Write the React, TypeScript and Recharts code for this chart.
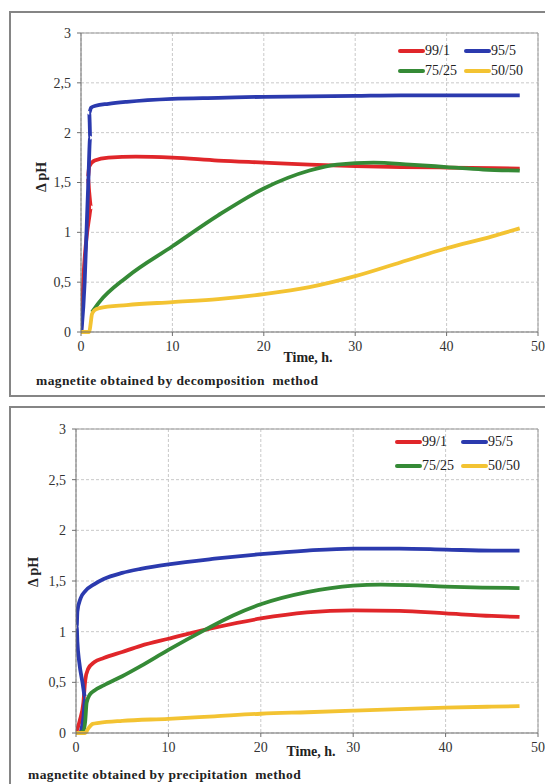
import React from 'react';
import {
  CartesianGrid,
  Legend,
  Line,
  LineChart,
  ReferenceLine,
  XAxis,
  YAxis,
} from 'recharts';

// [time, h ; delta pH]
const DEC_99_1 = [
  [0, 0], [0.3, 0.6], [0.9, 1.15], [1.1, 1.25], [0.9, 1.4], [0.75, 1.55], [0.9, 1.66],
  [1.5, 1.72], [3, 1.75], [6, 1.76], [10, 1.75], [15, 1.72], [20, 1.7], [25, 1.68],
  [30, 1.665], [35, 1.655], [40, 1.65], [48, 1.64],
];
const DEC_95_5 = [
  [0.05, 0], [0.4, 0.5], [0.6, 1.0], [0.8, 1.5], [1.0, 1.95], [0.95, 2.1], [0.9, 2.2],
  [1.1, 2.25], [1.6, 2.27], [3, 2.29], [5, 2.31], [10, 2.34], [15, 2.35], [20, 2.36],
  [25, 2.365], [30, 2.37], [35, 2.375], [40, 2.375], [48, 2.375],
];
const DEC_75_25 = [
  [1.2, 0.2], [2, 0.3], [5, 0.55], [10, 0.86], [15, 1.17], [20, 1.44], [25, 1.62],
  [28, 1.68], [32, 1.7], [36, 1.68], [40, 1.655], [44, 1.63], [48, 1.62],
];
const DEC_50_50 = [
  [0, 0], [0.9, 0], [1.05, 0.08], [1.2, 0.18], [1.5, 0.22], [2, 0.24], [5, 0.27],
  [10, 0.3], [15, 0.33], [20, 0.38], [25, 0.45], [30, 0.56], [35, 0.7], [40, 0.84],
  [45, 0.96], [48, 1.04],
];

const PREC_99_1 = [
  [0, 0], [0.4, 0.12], [0.8, 0.3], [1.0, 0.52], [1.3, 0.63], [2, 0.7], [3, 0.74],
  [5, 0.8], [7, 0.86], [10, 0.93], [15, 1.04], [20, 1.13], [25, 1.19], [30, 1.21],
  [35, 1.205], [40, 1.18], [45, 1.155], [48, 1.145],
];
const PREC_95_5 = [
  [0.5, 0], [0.8, 0.15], [1.0, 0.35], [0.7, 0.5], [0.35, 0.7], [0.15, 0.9], [0.08, 1.05],
  [0.15, 1.2], [0.5, 1.33], [1, 1.4], [2, 1.47], [3, 1.52], [5, 1.58], [7, 1.62],
  [10, 1.665], [15, 1.72], [20, 1.765], [25, 1.8], [30, 1.82], [35, 1.82], [40, 1.81],
  [45, 1.8], [48, 1.8],
];
const PREC_75_25 = [
  [0.3, 0], [0.8, 0.02], [1.0, 0.12], [1.15, 0.3], [1.5, 0.38], [2, 0.42], [3, 0.47],
  [5, 0.56], [7, 0.66], [10, 0.82], [14, 1.02], [17, 1.16], [20, 1.27], [25, 1.39],
  [30, 1.455], [33, 1.465], [36, 1.46], [40, 1.445], [44, 1.435], [48, 1.43],
];
const PREC_50_50 = [
  [0, 0], [1, 0], [1.3, 0.04], [1.8, 0.09], [2.5, 0.1], [5, 0.12], [10, 0.14],
  [15, 0.165], [20, 0.19], [25, 0.205], [30, 0.22], [35, 0.235], [40, 0.25],
  [45, 0.26], [48, 0.265],
];

const SERIES_NAMES = ['99/1', '95/5', '75/25', '50/50'];
const SERIES_COLORS = ['#e0262a', '#2b3aae', '#358a36', '#f3c332'];
const X_TICKS = [0, 10, 20, 30, 40, 50];
const Y_TICKS = [0, 0.5, 1, 1.5, 2, 2.5, 3];

const SERIF = "'Liberation Serif', 'DejaVu Serif', serif";

const toPoints = (arr: number[][]) => arr.map(([t, v]) => ({ t, v }));
const fmt = (v: number) => String(v).replace('.', ',');

function LegendBox({ rowH }: { rowH: number }) {
  return (
    <div style={{ display: 'grid', gridTemplateColumns: '66px 66px' }}>
      {SERIES_NAMES.map((name, i) => (
        <div key={name} style={{ display: 'flex', alignItems: 'center', height: rowH }}>
          <svg width={27} height={6} style={{ display: 'block' }}>
            <line x1={2} y1={3} x2={25} y2={3} stroke={SERIES_COLORS[i]} strokeWidth={4} strokeLinecap="round" />
          </svg>
          <span style={{ fontFamily: SERIF, fontSize: 14, color: '#222', lineHeight: 1 }}>{name}</span>
        </div>
      ))}
    </div>
  );
}

interface PanelProps {
  series: number[][][];
  top: number;
  height: number;
  margin: { top: number; right: number; bottom: number; left: number };
  legendTop: number;
  legendLeft: number;
  rowH: number;
}

function Panel({ series, top, height, margin, legendTop, legendLeft, rowH }: PanelProps) {
  return (
    <div style={{ position: 'absolute', left: 0, top, width: 545, height }}>
      <LineChart width={545} height={height} margin={margin}>
        <CartesianGrid stroke="#c9c9c9" strokeDasharray="3 2" />
        <XAxis
          dataKey="t"
          type="number"
          domain={[0, 50]}
          ticks={X_TICKS}
          allowDataOverflow
          height={30}
          tickSize={4}
          tickMargin={5}
          stroke="#6f6f6f"
          tick={{ fill: '#333', fontFamily: SERIF, fontSize: 14 }}
        />
        <YAxis
          dataKey="v"
          type="number"
          domain={[0, 3]}
          ticks={Y_TICKS}
          width={30}
          tickSize={4}
          tickMargin={6}
          stroke="#6f6f6f"
          tickFormatter={fmt}
          tick={{ fill: '#333', fontFamily: SERIF, fontSize: 14 }}
        />
        <ReferenceLine y={3} stroke="#9a9a9a" />
        <ReferenceLine x={50} stroke="#9a9a9a" />
        <Legend
          verticalAlign="middle"
          align="center"
          wrapperStyle={{ top: legendTop, left: legendLeft, width: 140 }}
          content={() => <LegendBox rowH={rowH} />}
        />
        {series.map((s, i) => (
          <Line
            key={SERIES_NAMES[i]}
            data={toPoints(s)}
            dataKey="v"
            name={SERIES_NAMES[i]}
            type="monotone"
            stroke={SERIES_COLORS[i]}
            strokeWidth={3.8}
            dot={false}
            activeDot={false}
            isAnimationActive={false}
          />
        ))}
      </LineChart>
    </div>
  );
}

const boldText: React.CSSProperties = {
  position: 'absolute',
  fontFamily: SERIF,
  fontWeight: 'bold',
  color: '#222',
  whiteSpace: 'pre',
  lineHeight: 1,
};

export default function App() {
  return (
    <div style={{ position: 'absolute', left: 0, top: 0, width: 545, height: 784, overflow: 'hidden', background: '#fff' }}>
      <div style={{ position: 'absolute', left: 9, top: 11, width: 560, height: 382, border: '2px solid #858585' }} />
      <div style={{ position: 'absolute', left: 9, top: 406, width: 560, height: 400, border: '2px solid #858585' }} />

      <Panel
        series={[DEC_99_1, DEC_95_5, DEC_75_25, DEC_50_50]}
        top={0}
        height={395}
        margin={{ top: 33, right: 7, bottom: 33, left: 51 }}
        legendTop={41}
        legendLeft={398}
        rowH={20}
      />
      <Panel
        series={[PREC_99_1, PREC_95_5, PREC_75_25, PREC_50_50]}
        top={395}
        height={389}
        margin={{ top: 34, right: 7, bottom: 21, left: 46 }}
        legendTop={35}
        legendLeft={395}
        rowH={24}
      />

      <div style={{ ...boldText, fontSize: 14, left: 42, top: 177, transform: 'translate(-50%, -50%) rotate(-90deg)' }}>Δ pH</div>
      <div style={{ ...boldText, fontSize: 14, left: 308, top: 358, transform: 'translate(-50%, -50%)' }}>Time, h.</div>
      <div style={{ ...boldText, fontSize: 13.5, letterSpacing: 0.4, left: 36, top: 374 }}>magnetite obtained by decomposition  method</div>

      <div style={{ ...boldText, fontSize: 14, left: 34, top: 572, transform: 'translate(-50%, -50%) rotate(-90deg)' }}>Δ pH</div>
      <div style={{ ...boldText, fontSize: 14, left: 311, top: 752, transform: 'translate(-50%, -50%)' }}>Time, h.</div>
      <div style={{ ...boldText, fontSize: 13.5, letterSpacing: 0.4, left: 28, top: 768 }}>magnetite obtained by precipitation  method</div>
    </div>
  );
}
